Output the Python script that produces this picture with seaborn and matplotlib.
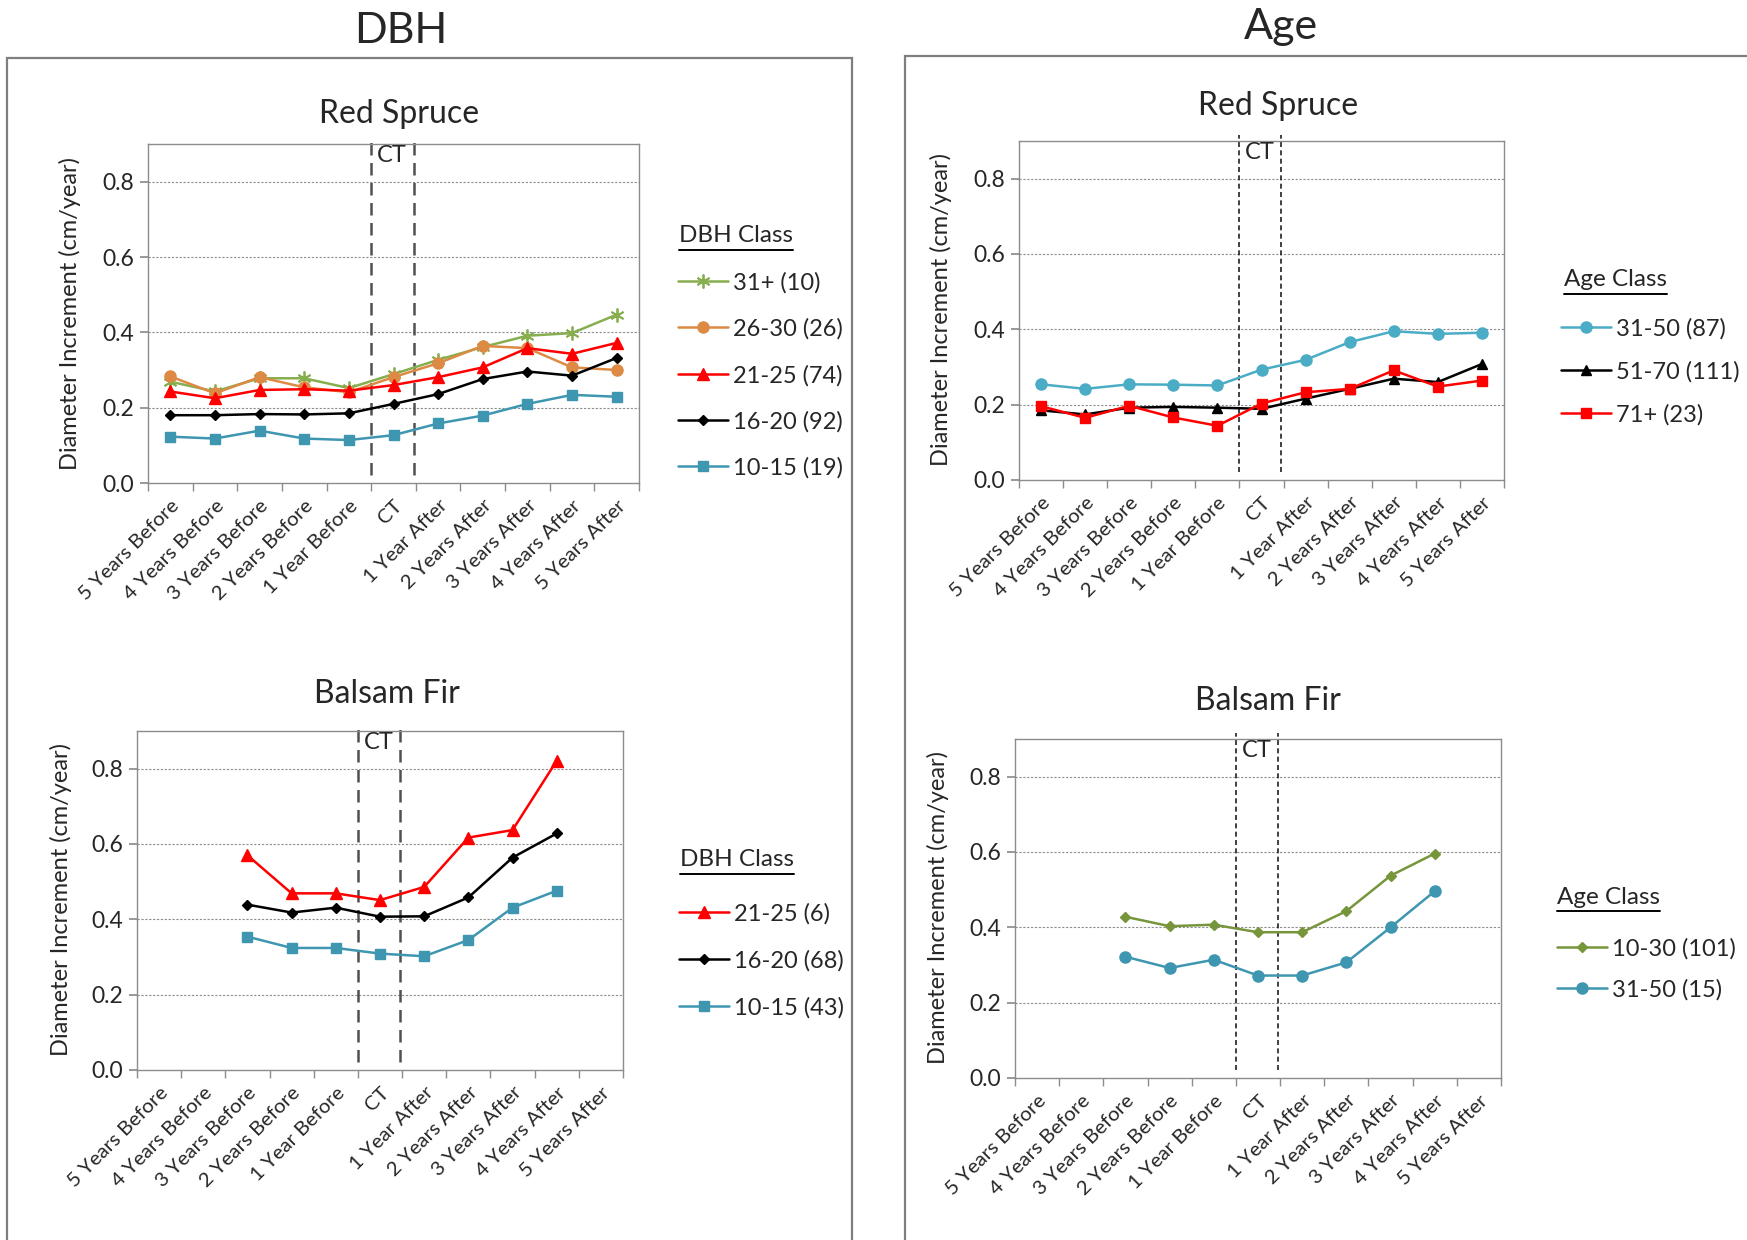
import numpy as np
import pandas as pd
import matplotlib
matplotlib.use('Agg')
import matplotlib.pyplot as plt
import seaborn as sns
from matplotlib.lines import Line2D
from matplotlib.patches import Rectangle

"""growth (diameter increment) around the CT year, split by DBH class and by age class"""

W, H = 1747, 1240

periods = ['5 Years Before', '4 Years Before', '3 Years Before', '2 Years Before', '1 Year Before', 'CT',
           '1 Year After', '2 Years After', '3 Years After', '4 Years After', '5 Years After']

# DBH classes - red spruce
rs_dbh_31 = [0.269, 0.243, 0.278, 0.278, 0.252, 0.289, 0.327, 0.361, 0.391, 0.398, 0.447]
rs_dbh_26 = [0.283, 0.238, 0.281, 0.254, 0.241, 0.281, 0.318, 0.364, 0.358, 0.307, 0.300]
rs_dbh_21 = [0.243, 0.225, 0.247, 0.249, 0.245, 0.260, 0.281, 0.307, 0.358, 0.343, 0.372]
rs_dbh_16 = [0.180, 0.180, 0.183, 0.182, 0.185, 0.210, 0.236, 0.276, 0.296, 0.285, 0.332]
rs_dbh_10 = [0.123, 0.118, 0.139, 0.118, 0.114, 0.127, 0.158, 0.179, 0.210, 0.234, 0.229]

# DBH classes - balsam fir
bf_dbh_21 = [np.nan, np.nan, 0.570, 0.469, 0.469, 0.451, 0.486, 0.617, 0.637, 0.821, np.nan]
bf_dbh_16 = [np.nan, np.nan, 0.439, 0.418, 0.431, 0.407, 0.408, 0.458, 0.564, 0.628, np.nan]
bf_dbh_10 = [np.nan, np.nan, 0.354, 0.324, 0.324, 0.309, 0.302, 0.345, 0.431, 0.476, np.nan]

# age classes - red spruce
rs_age_31 = [0.254, 0.242, 0.254, 0.253, 0.251, 0.293, 0.319, 0.366, 0.395, 0.388, 0.391]
rs_age_51 = [0.185, 0.174, 0.192, 0.194, 0.192, 0.189, 0.216, 0.242, 0.269, 0.260, 0.308]
rs_age_71 = [0.196, 0.165, 0.197, 0.166, 0.144, 0.203, 0.233, 0.242, 0.291, 0.248, 0.264]

# age classes - balsam fir
bf_age_10 = [np.nan, np.nan, 0.428, 0.403, 0.407, 0.387, 0.387, 0.443, 0.537, 0.596, np.nan]
bf_age_31 = [np.nan, np.nan, 0.322, 0.292, 0.314, 0.272, 0.272, 0.307, 0.400, 0.496, np.nan]


def fx(px):
    return px / W


def fy(py):
    return 1 - py / H


def make_axes(fig, left, top, right, bottom):
    return fig.add_axes([fx(left), fy(bottom), fx(right) - fx(left), fy(top) - fy(bottom)])


def style_axes(ax, ct_style):
    """excel-ish category axis, dotted grid and the CT marker lines"""
    ax.set_xlim(-0.5, 10.5)
    ax.set_ylim(0, 0.9)
    ax.set_xticks(np.arange(len(periods)))
    ax.set_xticklabels(periods, rotation=45, ha='right', rotation_mode='anchor', fontsize=14.7)
    ax.set_xticks(np.arange(-0.5, 11, 1), minor=True)
    ax.tick_params(axis='x', which='major', length=0, pad=10)
    ax.tick_params(axis='x', which='minor', length=6, color='#8c8c8c', direction='out', bottom=True)
    ax.set_yticks([0, 0.2, 0.4, 0.6, 0.8])
    ax.set_yticklabels([f'{v:.1f}' for v in [0, 0.2, 0.4, 0.6, 0.8]], fontsize=16.5)
    ax.tick_params(axis='y', length=6, color='#8c8c8c', direction='out', left=True, pad=4)
    for s in ax.spines.values():
        s.set_color('#8c8c8c')
        s.set_linewidth(1.0)
    for v in [0.2, 0.4, 0.6, 0.8]:
        ax.axhline(v, color='#8c8c8c', lw=0.8, ls=(0, (2, 1.5)), zorder=0)
    ax.set_xlabel('')
    ax.set_ylabel('')
    if ct_style == 'dbh':
        ls, col, lw = (0, (5, 3)), '#505050', 1.8
    else:
        ls, col, lw = (0, (3, 2)), '#202020', 1.2
    ax.vlines([4.5, 5.45], 0.02, 0.915, colors=col, linestyles=[ls], lw=lw, clip_on=False, zorder=1)
    ax.text(4.97, 0.87, 'CT', ha='center', va='center', fontsize=17)


def draw_series(ax, values, label, color, marker, ms, mew=1.0):
    df = pd.DataFrame({'x': np.arange(len(periods)), 'y': values}).dropna()
    sns.lineplot(data=df, x='x', y='y', ax=ax, color=color, marker=marker, markersize=ms,
                 markeredgecolor=color, markeredgewidth=mew, lw=1.8, label=label, zorder=3)


def add_legend(fig, ax, title, title_xy, line_left, first_row, spacing):
    handles, labels = ax.get_legend_handles_labels()
    if ax.get_legend() is not None:
        ax.get_legend().remove()
    t = fig.text(fx(title_xy[0]), fy(title_xy[1]), title, fontsize=17.5, ha='left', va='center')
    fig.canvas.draw()
    bb = t.get_window_extent()
    fig.add_artist(Line2D([bb.x0 / W, bb.x1 / W], [fy(title_xy[1] + 14)] * 2,
                          color='black', lw=1.4, transform=fig.transFigure))
    for i, (h, lab) in enumerate(zip(handles, labels)):
        yy = fy(first_row + i * spacing)
        fig.add_artist(Line2D([fx(line_left), fx(line_left + 50)], [yy, yy], color=h.get_color(), lw=1.8,
                              transform=fig.transFigure))
        fig.add_artist(Line2D([fx(line_left + 25)], [yy], color=h.get_color(), marker=h.get_marker(),
                              markersize=h.get_markersize(), markeredgecolor=h.get_color(),
                              markeredgewidth=h.get_markeredgewidth(), transform=fig.transFigure))
        fig.text(fx(line_left + 55), yy, lab, fontsize=17, ha='left', va='center_baseline')


def main():
    sns.set_theme(style='white')
    plt.rcParams['font.family'] = ['Lato', 'DejaVu Sans']
    fig = plt.figure(figsize=(W / 100, H / 100), dpi=100)

    # outer frames for the two groups
    fig.add_artist(Rectangle((fx(7), fy(1300)), fx(852) - fx(7), fy(58) - fy(1300), fill=False,
                             edgecolor='#7f7f7f', lw=1.6, transform=fig.transFigure))
    fig.add_artist(Rectangle((fx(905), fy(1300)), fx(1800) - fx(905), fy(56) - fy(1300), fill=False,
                             edgecolor='#7f7f7f', lw=1.6, transform=fig.transFigure))
    fig.text(fx(401), fy(31), 'DBH', fontsize=31, ha='center', va='center')
    fig.text(fx(1281), fy(27), 'Age', fontsize=31, ha='center', va='center')

    green = '#86AE4E'
    orange = '#DD8A44'
    teal = '#3E96B0'
    light_blue = '#4BACC6'
    olive = '#77963C'

    # DBH red spruce
    ax1 = make_axes(fig, 148, 144, 639, 483)
    draw_series(ax1, rs_dbh_31, '31+ (10)', green, (6, 2, 0), 10, 1.3)
    draw_series(ax1, rs_dbh_26, '26-30 (26)', orange, 'o', 8)
    draw_series(ax1, rs_dbh_21, '21-25 (74)', 'red', '^', 8)
    draw_series(ax1, rs_dbh_16, '16-20 (92)', 'black', 'D', 5.5)
    draw_series(ax1, rs_dbh_10, '10-15 (19)', teal, 's', 7.5)
    style_axes(ax1, 'dbh')
    fig.text(fx(70), fy(313), 'Diameter Increment (cm/year)', rotation=90, ha='center', va='center', fontsize=17)
    fig.text(fx(399), fy(114), 'Red Spruce', fontsize=23, ha='center', va='center')
    add_legend(fig, ax1, 'DBH Class', (679, 236), 678, 281, 46.3)

    # DBH balsam fir
    ax2 = make_axes(fig, 137, 731, 623, 1070)
    draw_series(ax2, bf_dbh_21, '21-25 (6)', 'red', '^', 8)
    draw_series(ax2, bf_dbh_16, '16-20 (68)', 'black', 'D', 5.5)
    draw_series(ax2, bf_dbh_10, '10-15 (43)', teal, 's', 7.5)
    style_axes(ax2, 'dbh')
    fig.text(fx(61), fy(900), 'Diameter Increment (cm/year)', rotation=90, ha='center', va='center', fontsize=17)
    fig.text(fx(387), fy(694), 'Balsam Fir', fontsize=23, ha='center', va='center')
    add_legend(fig, ax2, 'DBH Class', (680, 860), 679, 912, 46.8)

    # age red spruce
    ax3 = make_axes(fig, 1019, 141, 1504, 480)
    draw_series(ax3, rs_age_31, '31-50 (87)', light_blue, 'o', 8)
    draw_series(ax3, rs_age_51, '51-70 (111)', 'black', '^', 7.5)
    draw_series(ax3, rs_age_71, '71+ (23)', 'red', 's', 7.5)
    style_axes(ax3, 'age')
    fig.text(fx(941), fy(310), 'Diameter Increment (cm/year)', rotation=90, ha='center', va='center', fontsize=17)
    fig.text(fx(1278), fy(106), 'Red Spruce', fontsize=23, ha='center', va='center')
    add_legend(fig, ax3, 'Age Class', (1564, 280), 1561, 327, 43)

    # age balsam fir
    ax4 = make_axes(fig, 1015, 739, 1501, 1078)
    draw_series(ax4, bf_age_10, '10-30 (101)', olive, 'D', 5.5)
    draw_series(ax4, bf_age_31, '31-50 (15)', teal, 'o', 8)
    style_axes(ax4, 'age')
    fig.text(fx(938), fy(908), 'Diameter Increment (cm/year)', rotation=90, ha='center', va='center', fontsize=17)
    fig.text(fx(1268), fy(701), 'Balsam Fir', fontsize=23, ha='center', va='center')
    add_legend(fig, ax4, 'Age Class', (1557, 897), 1557, 947, 41)

    fig.savefig('out.png', dpi=100)
    plt.close(fig)


main()
